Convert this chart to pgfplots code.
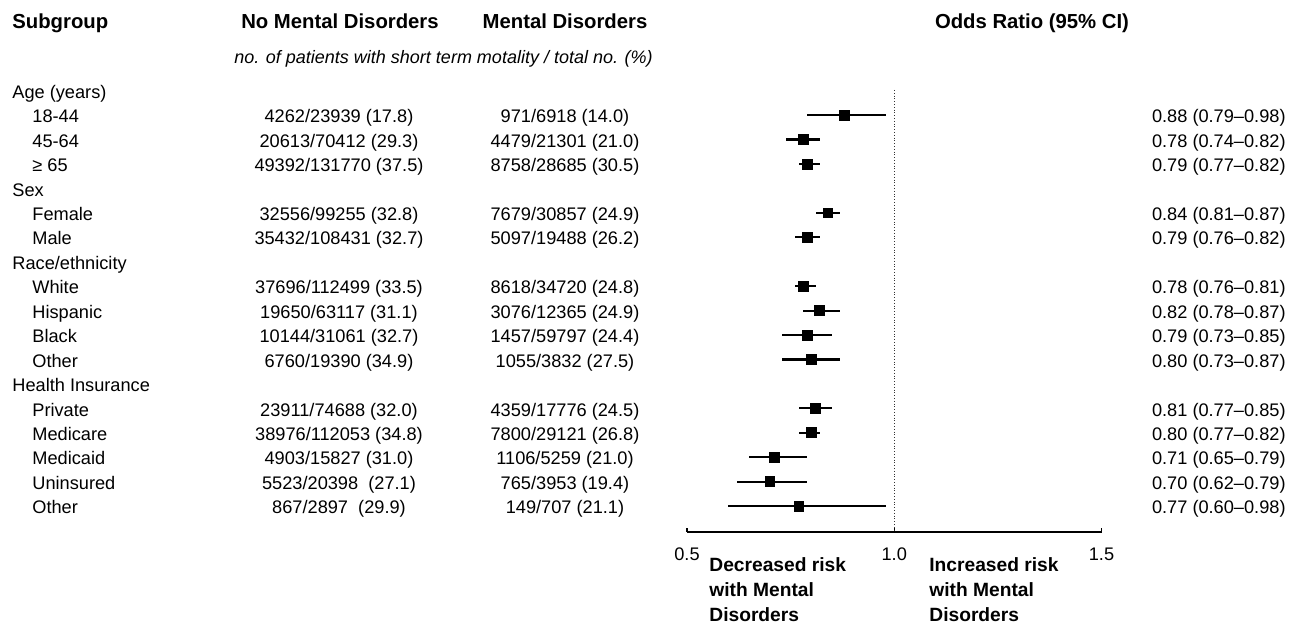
\documentclass[border=0pt]{standalone}
\usepackage{pgfplots}
\pgfplotsset{compat=1.18}
\usepackage{pgfplotstable}
\usepackage{fontspec}
\setmainfont{Liberation Sans}

\pgfplotstableread{
row or lo hi
-1 0.88 0.79 0.98
-2 0.78 0.74 0.82
-3 0.79 0.77 0.82
-5 0.84 0.81 0.87
-6 0.79 0.76 0.82
-8 0.78 0.76 0.81
-9 0.82 0.78 0.87
-10 0.79 0.73 0.85
-11 0.80 0.73 0.87
-13 0.81 0.77 0.85
-14 0.80 0.77 0.82
-15 0.71 0.65 0.79
-16 0.70 0.62 0.79
-17 0.77 0.60 0.98
}\ortable

\newcommand\bodyfont{\fontsize{9.1}{11}\selectfont}
\newcommand\headfont{\fontsize{10.15}{12}\selectfont\bfseries}
\newcommand\R[4]{\node[anchor=#3, inner sep=0pt, font=\bodyfont] at (#2,{90.6+24.44*#1+7.7}) {#4};}

\begin{document}
\begin{tikzpicture}
\path[use as bounding box] (0,0) rectangle (651pt,-312.5pt);
\begin{axis}[
  at={(343.5pt,-266pt)}, anchor=south west,
  scale only axis, width=207.25pt, height=221pt,
  xmin=0.5, xmax=1.5, ymin=-18.06, ymax=0.03,
  axis y line=none, axis x line=bottom,
  x axis line style={-, line width=0.75pt},
  xtick={0.5,1,1.5}, xticklabels={0.5,1.0,1.5},
  tick align=inside, major tick length=2pt,
  tick style={black, line width=0.75pt},
  xticklabel style={font=\bodyfont, yshift=-4.25pt},
  /pgf/number format/assume math mode=true,
  clip=false,
]
\addplot[black!80, densely dotted, line width=0.4pt] coordinates {(1,0.03) (1,-18.06)};
\addplot[black, only marks, mark=square*, mark size=2.45pt,
  error bars/.cd, x dir=both, x explicit,
  error bar style={line width=1.1pt, black}, error mark=none]
  table[x=or, y=row,
    x error plus expr=\thisrow{hi}-\thisrow{or},
    x error minus expr=\thisrow{or}-\thisrow{lo}] \ortable;
\end{axis}

\begin{scope}[x=0.5pt,y=-0.5pt]
% headers
\node[anchor=base west, inner sep=0pt, font=\headfont] at (12,29) {Subgroup};
\node[anchor=base, inner sep=0pt, font=\headfont] at (340,29) {No Mental Disorders};
\node[anchor=base, inner sep=0pt, font=\headfont] at (565,29) {Mental Disorders};
\node[anchor=base, inner sep=0pt, font=\headfont] at (1032,29) {Odds Ratio (95\% CI)};
\node[anchor=base, inner sep=0pt, font=\fontsize{9.0}{11}\selectfont\itshape] at (443.5,64) {no. of patients with short term motality / total no. (\%)};

% subgroup labels
\R{0}{12}{base west}{Age (years)}
\R{1}{32}{base west}{18-44}
\R{2}{32}{base west}{45-64}
\R{3}{32}{base west}{≥ 65}
\R{4}{12}{base west}{Sex}
\R{5}{32}{base west}{Female}
\R{6}{32}{base west}{Male}
\R{7}{12}{base west}{Race/ethnicity}
\R{8}{32}{base west}{White}
\R{9}{32}{base west}{Hispanic}
\R{10}{32}{base west}{Black}
\R{11}{32}{base west}{Other}
\R{12}{12}{base west}{Health Insurance}
\R{13}{32}{base west}{Private}
\R{14}{32}{base west}{Medicare}
\R{15}{32}{base west}{Medicaid}
\R{16}{32}{base west}{Uninsured}
\R{17}{32}{base west}{Other}

% no mental disorders
\R{1}{339}{base}{4262/23939 (17.8)}
\R{2}{339}{base}{20613/70412 (29.3)}
\R{3}{339}{base}{49392/131770 (37.5)}
\R{5}{339}{base}{32556/99255 (32.8)}
\R{6}{339}{base}{35432/108431 (32.7)}
\R{8}{339}{base}{37696/112499 (33.5)}
\R{9}{339}{base}{19650/63117 (31.1)}
\R{10}{339}{base}{10144/31061 (32.7)}
\R{11}{339}{base}{6760/19390 (34.9)}
\R{13}{339}{base}{23911/74688 (32.0)}
\R{14}{339}{base}{38976/112053 (34.8)}
\R{15}{339}{base}{4903/15827 (31.0)}
\R{16}{339}{base}{5523/20398\ \ (27.1)}
\R{17}{339}{base}{867/2897\ \ (29.9)}

% mental disorders
\R{1}{565}{base}{971/6918 (14.0)}
\R{2}{565}{base}{4479/21301 (21.0)}
\R{3}{565}{base}{8758/28685 (30.5)}
\R{5}{565}{base}{7679/30857 (24.9)}
\R{6}{565}{base}{5097/19488 (26.2)}
\R{8}{565}{base}{8618/34720 (24.8)}
\R{9}{565}{base}{3076/12365 (24.9)}
\R{10}{565}{base}{1457/59797 (24.4)}
\R{11}{565}{base}{1055/3832 (27.5)}
\R{13}{565}{base}{4359/17776 (24.5)}
\R{14}{565}{base}{7800/29121 (26.8)}
\R{15}{565}{base}{1106/5259 (21.0)}
\R{16}{565}{base}{765/3953 (19.4)}
\R{17}{565}{base}{149/707 (21.1)}

% odds ratios
\R{1}{1286}{base east}{0.88 (0.79–0.98)}
\R{2}{1286}{base east}{0.78 (0.74–0.82)}
\R{3}{1286}{base east}{0.79 (0.77–0.82)}
\R{5}{1286}{base east}{0.84 (0.81–0.87)}
\R{6}{1286}{base east}{0.79 (0.76–0.82)}
\R{8}{1286}{base east}{0.78 (0.76–0.81)}
\R{9}{1286}{base east}{0.82 (0.78–0.87)}
\R{10}{1286}{base east}{0.79 (0.73–0.85)}
\R{11}{1286}{base east}{0.80 (0.73–0.87)}
\R{13}{1286}{base east}{0.81 (0.77–0.85)}
\R{14}{1286}{base east}{0.80 (0.77–0.82)}
\R{15}{1286}{base east}{0.71 (0.65–0.79)}
\R{16}{1286}{base east}{0.70 (0.62–0.79)}
\R{17}{1286}{base east}{0.77 (0.60–0.98)}

% bottom labels
\node[anchor=base west, inner sep=0pt, font=\fontsize{9.6}{11}\selectfont\bfseries] at (709,571.7) {Decreased risk};
\node[anchor=base west, inner sep=0pt, font=\fontsize{9.6}{11}\selectfont\bfseries] at (709,596.7) {with Mental};
\node[anchor=base west, inner sep=0pt, font=\fontsize{9.6}{11}\selectfont\bfseries] at (709,621.7) {Disorders};
\node[anchor=base west, inner sep=0pt, font=\fontsize{9.6}{11}\selectfont\bfseries] at (929,571.7) {Increased risk};
\node[anchor=base west, inner sep=0pt, font=\fontsize{9.6}{11}\selectfont\bfseries] at (929,596.7) {with Mental};
\node[anchor=base west, inner sep=0pt, font=\fontsize{9.6}{11}\selectfont\bfseries] at (929,621.7) {Disorders};
\end{scope}
\end{tikzpicture}
\end{document}
